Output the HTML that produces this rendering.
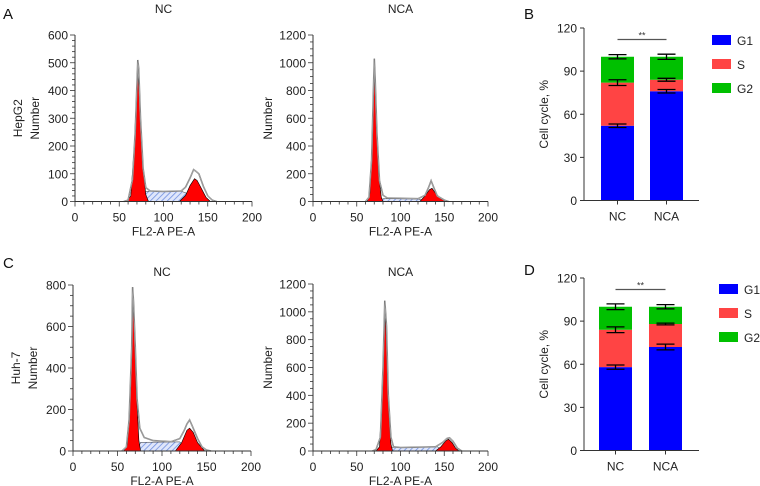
<!DOCTYPE html>
<html><head><meta charset="utf-8"><style>
body{margin:0;background:#fff}
svg{display:block;font-family:"Liberation Sans",sans-serif}
</style></head><body>
<svg id="fig" width="760" height="486" viewBox="0 0 760 486" xmlns="http://www.w3.org/2000/svg">
<defs>
<pattern id="hatch" patternUnits="userSpaceOnUse" width="4" height="4" patternTransform="rotate(45)">
<rect width="4" height="4" fill="#dfe6fb"/><line x1="0" y1="0" x2="0" y2="4" stroke="#6f8fe0" stroke-width="1.6"/>
</pattern>
</defs>
</svg>
<script>
// ---- Histogram data (x = FL2-A channel, y = count) ----
const hepNcOutline=[[55,0],[60,5],[65,80],[68,250],[70,420],[71,510],[72,480],[74,300],[77,120],[80,50],[85,38],[100,36],[120,38],[125,52],[130,85],[134,115],[137,108],[140,100],[145,55],[150,20],[155,5],[160,0]];
const hepNcG1=[[58,0],[63,20],[67,200],[70,420],[71,455],[73,380],[76,150],[80,25],[83,0]];
const hepNcG2=[[118,0],[125,22],[130,58],[135,82],[138,76],[142,52],[148,15],[153,0]];
const hepNcS=[[74,0],[78,35],[85,37],[120,37],[126,30],[132,12],[136,0]];
const hepNcaOutline=[[60,0],[64,30],[67,300],[69,800],[70,1030],[71,900],[73,500],[76,150],[80,45],[85,25],[120,20],[128,45],[132,100],[135,150],[138,100],[142,40],[150,10],[155,0]];
const hepNcaG1=[[62,0],[65,60],[68,500],[70,930],[72,700],[75,200],[78,30],[80,0]];
const hepNcaG2=[[122,0],[128,40],[133,85],[136,95],[140,60],[146,20],[152,0]];
const hepNcaS=[[76,0],[80,20],[120,18],[126,10],[130,0]];
const huhNcOutline=[[55,0],[60,20],[63,150],[66,500],[67,790],[68,720],[70,500],[72,250],[75,110],[80,65],[90,50],[110,45],[120,60],[125,100],[128,130],[131,150],[134,120],[140,60],[145,20],[150,5],[155,0]];
const huhNcG1=[[57,0],[61,30],[64,250],[67,700],[69,600],[71,300],[74,50],[76,0]];
const huhNcG2=[[115,0],[122,40],[128,100],[131,110],[135,90],[140,40],[148,0]];
const huhNcS=[[72,0],[76,42],[120,44],[125,22],[130,0]];
const huhNcaOutline=[[68,0],[72,10],[77,100],[80,600],[82,1080],[84,900],[86,400],[89,100],[92,30],[100,25],[140,30],[148,60],[153,90],[156,95],[160,70],[165,20],[170,0]];
const huhNcaG1=[[72,0],[76,30],[79,400],[82,1000],[84,800],[86,350],[89,50],[91,0]];
const huhNcaG2=[[140,0],[146,30],[152,75],[155,85],[159,60],[163,20],[167,0]];
const huhNcaS=[[88,0],[90,25],[142,30],[146,15],[150,0]];
const xTicks=[0,50,100,150,200];
const yTicks600=[0,100,200,300,400,500,600];
const yTicks1200=[0,200,400,600,800,1000,1200];
const yTicks800=[0,200,400,600,800];

// ---- Bar data ----
const barCats=["NC","NCA"];
const bG1=[52,76], bS=[30,8], bG2=[18,16];
const bErr=[[1.2,2,1.5],[1.2,1,1.8]];
const dG1=[58,72], dS=[26,16], dG2=[16,12];
const dErr=[[1.5,2,2],[2,0.6,1.5]];
const barTicks=[0,30,60,90,120];
const legendLabels=["G1","S","G2"];

const NS="http://www.w3.org/2000/svg";
const svg=document.getElementById('fig');
function el(t,a,p){const e=document.createElementNS(NS,t);for(const k in a)e.setAttribute(k,a[k]);(p||svg).appendChild(e);return e;}
function txt(s,a,p){const e=el('text',a,p);e.textContent=s;return e;}

function histo(o){
  const g=el('g',{});
  
  
  const sx=v=>o.x0+(v/200)*(o.x1-o.x0), sy=v=>o.y0-(v/o.ymax)*(o.y0-o.y1);
  const pts=a=>a.map(p=>sx(p[0]).toFixed(1)+','+sy(p[1]).toFixed(1)).join(' ');
  const s=el('polygon',{points:pts(o.S),fill:'url(#hatch)',stroke:'#333','stroke-width':0.5},g);
  
  const a=el('polygon',{points:pts(o.G1),fill:'#f00',stroke:'#000','stroke-width':0.6},g);
  
  const b=el('polygon',{points:pts(o.G2),fill:'#f00',stroke:'#000','stroke-width':0.6},g);
  
  const l=el('polyline',{points:pts(o.out),fill:'none',stroke:'#888','stroke-width':1.6},g);
  
  el('polyline',{points:pts(o.out),fill:'none',stroke:'#fff','stroke-width':0.6},g);
  el('polyline',{points:pts(o.out),fill:'none',stroke:'#333','stroke-width':0.3},g);
  el('line',{x1:o.x0,y1:o.y0,x2:o.x1,y2:o.y0,stroke:'#333','stroke-width':1},g);
  el('line',{x1:o.x0,y1:o.y0,x2:o.x0,y2:o.y1,stroke:'#333','stroke-width':1},g);
  for(let v=0;v<=200;v+=10){const big=v%50==0;el('line',{x1:sx(v),y1:o.y0,x2:sx(v),y2:o.y0+(big?5:3),stroke:'#333','stroke-width':0.8},g);}
  xTicks.forEach(v=>{const t=txt(v,{x:sx(v),y:o.y0+20,'font-size':12,'text-anchor':'middle',fill:'#222'},g);});
  const step=o.ticks[1]-o.ticks[0];
  for(let v=0;v<=o.ymax;v+=step/o.minor){const big=Math.abs(v/step-Math.round(v/step))<1e-6;el('line',{x1:o.x0,y1:sy(v),x2:o.x0-(big?5:3),y2:sy(v),stroke:'#333','stroke-width':0.8},g);}
  o.ticks.forEach(v=>{const t=txt(v,{x:o.x0-7,y:sy(v)+4.5,'font-size':12,'text-anchor':'end',fill:'#222'},g);});
  const tt=txt(o.title,{x:(o.x0+o.x1)/2,y:o.titleY,'font-size':12,'text-anchor':'middle',fill:'#222'},g);
  
  const xl=txt('FL2-A PE-A',{x:(o.x0+o.x1)/2,y:o.y0+34,'font-size':12,'text-anchor':'middle',fill:'#222'},g);
  
  const yc=(o.y0+o.y1)/2;
  const yl=txt('Number',{x:0,y:0,'font-size':12,'text-anchor':'middle',fill:'#222',transform:`translate(${o.nx},${yc}) rotate(-90)`},g);
  
  if(o.cell){const c=txt(o.cell,{x:0,y:0,'font-size':12,'text-anchor':'middle',fill:'#222',transform:`translate(${o.nx-17},${yc}) rotate(-90)`},g);}
}

histo({name:'hepg2-nc-histogram',x0:75,x1:252,y0:201.5,y1:35,ymax:600,ticks:yTicks600,minor:5,out:hepNcOutline,G1:hepNcG1,G2:hepNcG2,S:hepNcS,title:'NC',titleY:13,nx:39,cell:'HepG2'});
histo({name:'hepg2-nca-histogram',x0:313,x1:488,y0:201.5,y1:35,ymax:1200,ticks:yTicks1200,minor:4,out:hepNcaOutline,G1:hepNcaG1,G2:hepNcaG2,S:hepNcaS,title:'NCA',titleY:13,nx:272});
histo({name:'huh7-nc-histogram',x0:73,x1:251,y0:451,y1:285,ymax:800,ticks:yTicks800,minor:4,out:huhNcOutline,G1:huhNcG1,G2:huhNcG2,S:huhNcS,title:'NC',titleY:276,nx:37,cell:'Huh-7'});
histo({name:'huh7-nca-histogram',x0:313,x1:488,y0:451,y1:284,ymax:1200,ticks:yTicks1200,minor:4,out:huhNcaOutline,G1:huhNcaG1,G2:huhNcaG2,S:huhNcaS,title:'NCA',titleY:276,nx:272});

function bars(o){
  const g=el('g',{});
  
  
  const sy=v=>o.y0-(v/120)*(o.y0-o.y1);
  const cols=['#0000ff','#ff4444','#00c000'];
  const names=['g1','s','g2'];
  barCats.forEach((c,i)=>{
    const x=o.bx[i], w=o.bw;
    const vals=[o.G1[i],o.S[i],o.G2[i]];
    let base=0;
    vals.forEach((v,k)=>{
      const r=el('rect',{x:x,y:sy(base+v),width:w,height:sy(base)-sy(base+v),fill:cols[k]},g);
      
      
      base+=v;
    });
    base=0;
    vals.forEach((v,k)=>{
      base+=v;const e=o.err[i][k],cx=x+w/2;
      const eg=el('g',{stroke:'#000','stroke-width':1.3},g);
      
      
      el('line',{x1:cx,y1:sy(base-e),x2:cx,y2:sy(base+e)},eg);
      el('line',{x1:cx-9,y1:sy(base-e),x2:cx+9,y2:sy(base-e)},eg);
      el('line',{x1:cx-9,y1:sy(base+e),x2:cx+9,y2:sy(base+e)},eg);
    });
    const t=txt(c,{x:x+w/2,y:o.y0+20,'font-size':12,'text-anchor':'middle',fill:'#222'},g);
    
    el('line',{x1:x+w/2,y1:o.y0,x2:x+w/2,y2:o.y0+4,stroke:'#333'},g);
  });
  el('line',{x1:o.x0,y1:o.y0,x2:o.x1,y2:o.y0,stroke:'#333'},g);
  el('line',{x1:o.x0,y1:o.y0,x2:o.x0,y2:o.y1,stroke:'#333'},g);
  barTicks.forEach(v=>{
    el('line',{x1:o.x0,y1:sy(v),x2:o.x0-4,y2:sy(v),stroke:'#333'},g);
    const t=txt(v,{x:o.x0-7,y:sy(v)+4.5,'font-size':12,'text-anchor':'end',fill:'#222'},g);
    
  });
  const yc=(o.y0+o.y1)/2;
  const yl=txt('Cell cycle, %',{x:0,y:0,'font-size':12,'text-anchor':'middle',fill:'#222',transform:`translate(${o.x0-36},${yc}) rotate(-90)`},g);
  
  const sl=el('line',{x1:o.bx[0]+o.bw/2,y1:sy(112),x2:o.bx[1]+o.bw/2,y2:sy(112),stroke:'#555','stroke-width':1.2},g);
  
  const st=txt('**',{x:(o.bx[0]+o.bx[1]+o.bw)/2,y:sy(112)-1,'font-size':9,'text-anchor':'middle',fill:'#333'},g);
  
  legendLabels.forEach((l,k)=>{
    const r=el('rect',{x:o.lx,y:o.ly+k*24,width:19,height:10,fill:cols[k]},g);
    
    const t=txt(l,{x:o.lx+25,y:o.ly+k*24+10,'font-size':12,fill:'#222'},g);
    
  });
}
bars({name:'hepg2-bar-chart',x0:584,x1:699,y0:200.5,y1:28,bx:[601,650],bw:33,G1:bG1,S:bS,G2:bG2,err:bErr,lx:712,ly:35});
bars({name:'huh7-bar-chart',x0:584,x1:699,y0:450.5,y1:278,bx:[599,649],bw:33,G1:dG1,S:dS,G2:dG2,err:dErr,lx:719,ly:284});

[['A',3,19],['B',524,19],['C',3,268],['D',524,275]].forEach(p=>{
  const t=txt(p[0],{x:p[1],y:p[2],'font-size':15,fill:'#111'});
  
  
});
</script>
</body></html>
